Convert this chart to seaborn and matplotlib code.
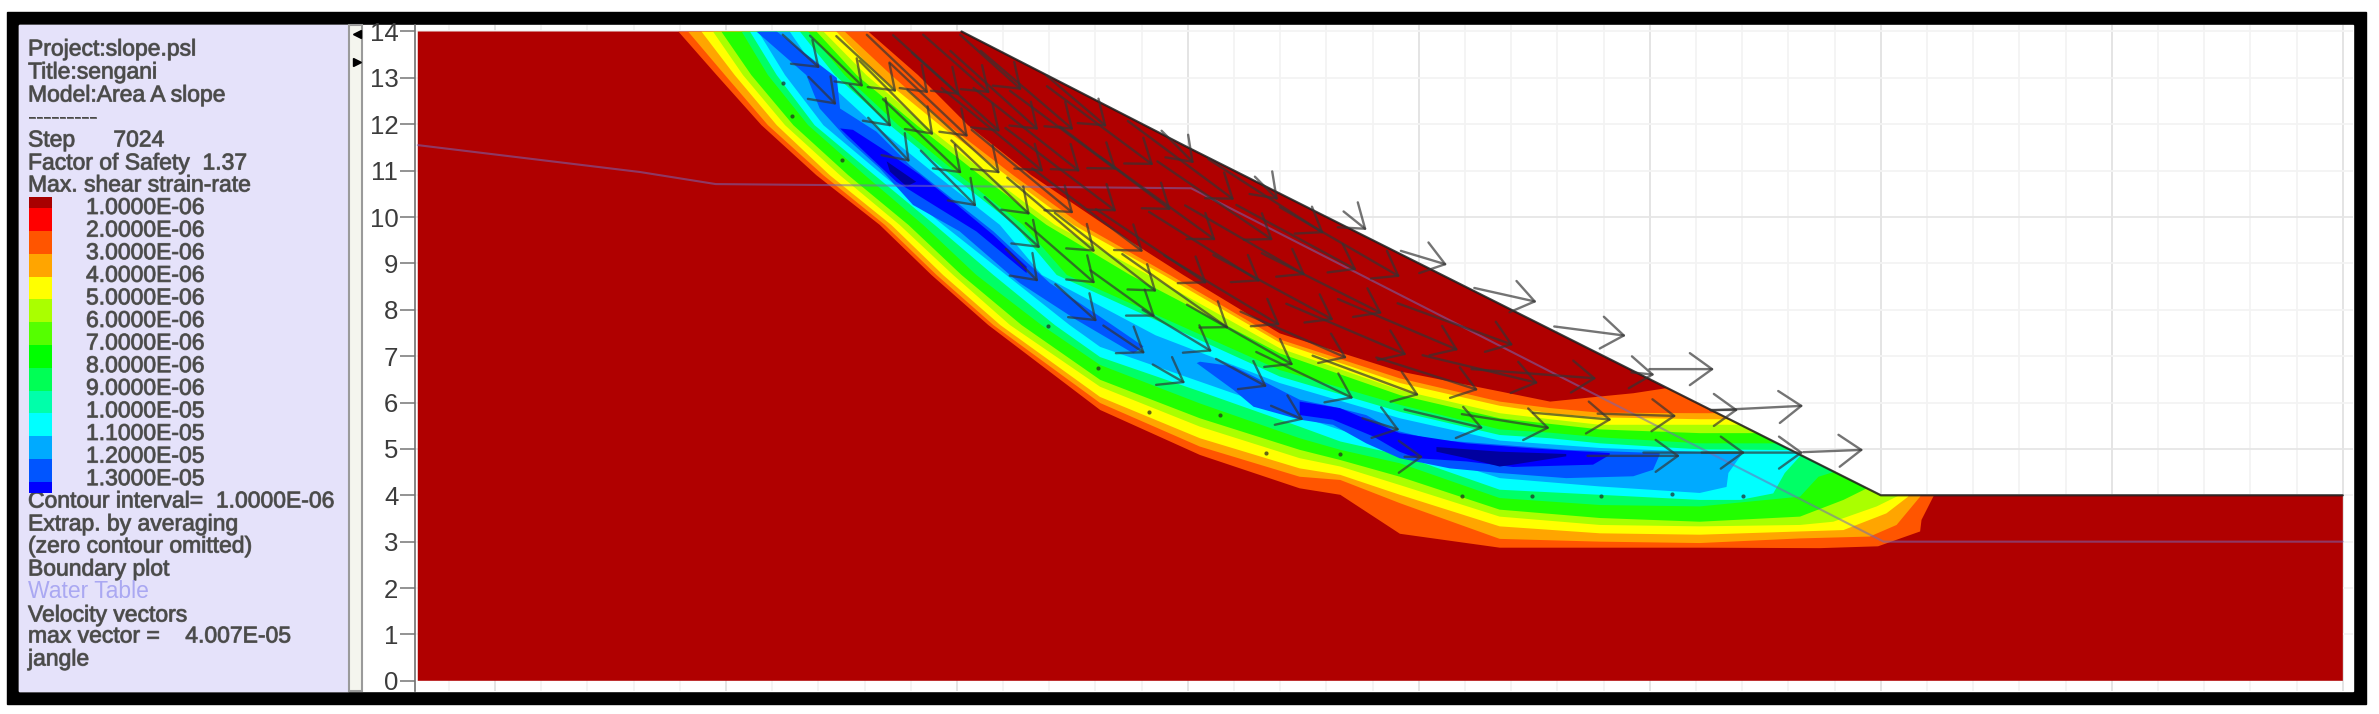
import numpy as np
import pandas as pd
import seaborn as sns
import matplotlib.pyplot as plt
import matplotlib.patheffects as pe
from matplotlib.colors import ListedColormap
from matplotlib.patches import Polygon, Rectangle

# slope outline, metres
ground_x = [3.33, 45, 45, 35, 30, 25, 20, 15.1, 3.33]
ground_y = [0, 0, 4, 4, 6.5, 9, 11.5, 14, 14]
face_x = [15.1, 20, 25, 30, 35, 45]
face_y = [14, 11.5, 9, 6.5, 4, 4]
water_x = [3.33, 8.14, 9.78, 20.07, 35.06, 45]
water_y = [11.55, 10.97, 10.71, 10.62, 3.0, 3.0]

# strain-rate legend
legend_labels = ['1.0000E-06', '2.0000E-06', '3.0000E-06', '4.0000E-06', '5.0000E-06',
                 '6.0000E-06', '7.0000E-06', '8.0000E-06', '9.0000E-06', '1.0000E-05',
                 '1.1000E-05', '1.2000E-05', '1.3000E-05']
legend_colors = ['#a80000', '#ff0000', '#ff5500', '#ffa500', '#ffff00', '#aaff00', '#55ff00',
                 '#00ff00', '#00ff55', '#00ffaa', '#00ffff', '#00aaff', '#0055ff', '#0000ff']
legend_cells = [1, 2, 2, 2, 2, 2, 2, 2, 2, 2, 2, 2, 2, 1]

ground_color = '#b00000'
band_colors = ['#ff5500', '#ffa500', '#ffff00', '#aaff00', '#22ff00', '#00ff66', '#00ffff']

# band edges below the shear zone: one row per height, one column per band
lower_heights = [14, 13.06, 11.98, 10.9, 9.83, 8.75, 7.67]
lower_by_height = [
    [8.97, 9.18, 9.47, 9.72, 9.90, 10.34, 10.52],
    [9.80, 9.98, 10.19, 10.37, 10.55, 10.91, 11.10],
    [10.77, 10.91, 11.10, 11.28, 11.46, 11.78, 11.92],
    [11.96, 12.11, 12.25, 12.47, 12.65, 13.01, 13.22],
    [13.33, 13.44, 13.58, 13.76, 13.95, 14.27, 14.52],
    [14.45, 14.56, 14.70, 14.92, 15.10, 15.42, 15.79],
    [15.68, 15.79, 15.94, 16.15, 16.40, 16.83, 17.12],
]
lower_positions = [18.10, 20.26, 22.42, 23.3, 24.59, 26.75, 28.92, 31.08]
lower_by_position = [
    [5.84, 5.99, 6.12, 6.34, 6.49, 6.81, 6.98],
    [4.87, 5.05, 5.23, 5.48, 5.66, 5.98, 6.24],
    [4.15, 4.40, 4.58, 4.80, 4.98, 5.23, 5.48],
    [4.01, 4.33, 4.44, 4.62, 4.76, 4.98, 5.16],
    [3.17, 3.83, 4.01, 4.22, 4.40, 4.69, 4.87],
    [2.87, 3.06, 3.33, 3.54, 3.69, 3.94, 4.12],
    [2.87, 3.00, 3.18, 3.36, 3.51, 3.79, 4.01],
    [2.87, 2.97, 3.15, 3.33, 3.43, 3.76, 3.90],
]
lower_toe = [
    [(33.68, 2.86), (34.94, 2.90), (35.85, 3.22), (35.88, 3.47), (36.15, 4.0), (36.2, 4.2)],
    [(33.25, 3.07), (34.76, 3.11), (35.34, 3.36), (35.85, 3.97), (35.9, 4.2)],
    [(33.25, 3.22), (34.19, 3.25), (35.12, 3.61), (35.59, 3.97), (35.65, 4.2)],
    [(33.25, 3.36), (33.97, 3.43), (34.91, 3.76), (35.38, 3.99), (35.45, 4.2)],
    [(33.25, 3.54), (34.19, 3.90), (34.8, 4.2)],
    [(33.25, 3.97), (33.65, 4.4), (34.3, 4.6)],
    [(31.95, 3.90), (32.67, 4.04), (32.92, 4.48), (33.32, 4.92), (33.5, 5.1)],
]

# band edges above the shear zone
upper_heights = [14, 13.06, 11.98, 10.9, 9.83, 8.75]
upper_by_height = [
    [13.08, 12.57, 12.39, 12.11, 11.96, 11.78, 11.60],
    [14.16, 13.58, 13.30, 13.04, 12.83, 12.57, 12.36],
    [15.24, 14.81, 14.63, 14.31, 14.13, 13.73, 13.55],
    [16.61, 16.22, 16.07, 15.68, 15.50, 15.06, 14.88],
    [18.20, 17.70, 17.52, 17.12, 16.94, 16.43, 16.25],
    [19.90, 19.61, 19.47, 19.15, 18.75, 17.38, 17.16],
]
upper_positions = [21.99, 24.59, 26.75, 27.84, 28.92]
upper_by_position = [
    [7.49, 7.36, 7.29, 7.17, 7.06, 6.70, 6.56],
    [6.67, 6.52, 6.42, 6.27, 6.16, 5.95, 5.80],
    [6.24, 6.02, 5.93, 5.77, 5.66, 5.42, 5.30],
    [6.02, 5.88, 5.77, 5.64, 5.54, 5.35, 5.23],
    [6.13, 5.78, 5.68, 5.52, 5.42, 5.25, 5.12],
]
upper_toe = [
    [(29.64, 6.2), (30.36, 6.31), (31.1, 6.6)],
    [(31.08, 5.77), (31.6, 5.77)],
    [(31.08, 5.64), (32, 5.64)],
    [(31.08, 5.52), (32.5, 5.52)],
    [(31.08, 5.34), (33, 5.34)],
    [(31.08, 5.12), (33.3, 5.12)],
    [(31.08, 4.99), (33.8, 4.97)],
]

# the closed blue patches in the middle of the band
sky_patch = [(10.70, 14), (11.28, 13.06), (12.11, 11.98), (13.40, 10.9), (14.70, 9.83), (16.07, 8.75),
             (17.44, 7.67), (18.10, 7.20), (20.26, 6.45), (22.42, 5.70), (23.3, 5.41), (24.59, 5.05),
             (26.75, 4.37), (28.92, 4.19), (31.08, 4.05), (31.66, 4.18), (31.7, 4.48), (32.0, 4.9),
             (28.92, 5.02), (26.75, 5.18), (24.59, 5.66), (21.99, 6.42), (19.3, 7.45), (16.84, 8.75),
             (15.93, 9.83), (14.56, 10.9), (13.22, 11.98), (12.03, 13.06), (11.38, 14)]
blue_upper = [(10.66, 14), (11.74, 13.06), (12.03, 12.34), (12.61, 11.70), (13.33, 11.05), (14.05, 10.26),
              (15.06, 9.69), (16.15, 8.75), (16.37, 8.57), (17.59, 7.78), (18.82, 7.06), (19.04, 7.21),
              (18.10, 7.85), (17.02, 8.57), (16.22, 9.29), (15.79, 9.69), (14.70, 10.55), (13.98, 11.12),
              (13.26, 11.84), (12.47, 12.34), (12.40, 13.0), (11.1, 14)]
blue_lower = [(20.19, 6.85), (20.99, 6.27), (21.42, 5.91), (22.43, 5.63), (23.14, 5.52), (23.86, 5.12),
              (24.58, 4.80), (25.67, 4.58), (26.75, 4.48), (28.19, 4.37), (29.64, 4.41), (30.07, 4.55),
              (30.21, 4.87), (30.21, 4.91), (28.19, 4.98), (26.75, 5.09), (25.31, 5.2), (24.44, 5.41),
              (23.86, 5.73), (23.14, 5.91), (22.42, 6.06), (21.71, 6.42), (20.99, 6.78), (20.26, 6.88)]
deep_upper = [(12.47, 11.91), (13.04, 11.37), (13.69, 10.76), (14.56, 10.22), (15.42, 9.69), (16.51, 8.79),
              (16.51, 8.93), (15.79, 9.61), (14.92, 10.33), (14.2, 10.91), (13.48, 11.41), (12.75, 11.88)]
deep_lower = [(22.42, 6.02), (23.29, 5.88), (24.08, 5.55), (24.58, 5.34), (26.03, 5.12), (27.47, 5.01),
              (29.13, 4.91), (29.13, 4.87), (28.77, 4.66), (27.04, 4.61), (26.03, 4.73), (24.95, 4.8),
              (24.58, 4.94), (24.01, 5.27), (23.14, 5.63), (22.42, 5.73)]
core_upper = [(13.48, 11.2), (14.12, 10.76), (13.91, 10.66), (13.55, 10.98)]
core_lower = [(25.38, 5.04), (26.75, 4.94), (28.19, 4.89), (28.19, 4.84), (27.04, 4.66), (26.75, 4.62),
              (26.03, 4.8), (25.38, 4.94)]
blue_patches = [(sky_patch, '#00aaff'), (blue_upper, '#0055ff'), (blue_lower, '#0055ff'),
                (deep_upper, '#0000ff'), (deep_lower, '#0000ff'), (core_upper, '#00009f'), (core_lower, '#00009f')]

# velocity vectors: arrow tip and vector
arrow_x = [12.03, 12.97, 13.69, 14.38, 15.06, 15.71, 16.40,
           12.39, 13.58, 14.49, 15.24, 15.93, 16.76, 17.52, 18.24,
           13.98, 15.10, 15.93, 16.87, 17.66, 18.45, 19.25,
           15.42, 16.58, 17.52, 18.45, 19.63, 20.13,
           16.80, 17.99, 19.03, 20.60, 21.00, 21.95,
           16.76, 17.99, 19.32, 20.41, 21.56, 21.84, 22.94, 23.87,
           18.03, 19.29, 20.88, 21.99, 22.54, 23.65, 24.59, 25.61,
           19.07, 20.52, 22.28, 23.15, 24.20, 25.85, 27.55,
           19.94, 21.71, 23.44, 24.73, 27.04, 29.48,
           22.50, 23.58, 25.00, 26.28, 27.58, 28.84, 30.10, 31.39,
           24.58, 26.39, 27.83, 29.17, 30.57, 31.91, 33.32,
           25.09, 30.65, 32.06, 33.32, 34.62]
arrow_y = [13.21, 12.81, 12.70, 12.67, 12.63, 12.67, 12.74,
           12.42, 11.95, 11.77, 11.73, 11.84, 11.88, 11.88, 11.95,
           11.19, 10.94, 10.94, 10.98, 10.98, 11.02, 11.12,
           10.23, 10.05, 10.08, 10.12, 10.15, 11.16,
           9.33, 9.25, 9.25, 9.50, 10.37, 10.37,
           8.61, 8.57, 8.39, 8.57, 8.61, 9.50, 9.65, 9.72,
           7.75, 7.85, 7.60, 7.67, 8.75, 8.86, 8.71, 8.97,
           7.06, 7.10, 6.81, 7.78, 7.92, 7.13, 8.17,
           6.42, 6.34, 6.96, 7.03, 7.24, 7.44,
           5.63, 6.09, 6.16, 6.27, 6.42, 6.52, 6.60, 6.72,
           5.41, 5.45, 5.45, 5.63, 5.71, 5.84, 5.93,
           4.83, 4.85, 4.92, 4.92, 4.98]
arrow_u = [.8, 1.15, 1.3, 1.33, 1.44, 1.44, 1.33,
           .6, .9, 1.6, 1.7, 1.9, 1.9, 2, 1.3,
           .9, 1.7, 2, 2.2, 2.3, 2.3, 2.3,
           1.2, 1.7, 2.2, 2.4, 2.4, .7,
           1.2, 1.9, 2.4, 2.5, 2.3, .5,
           .7, 1.5, 2.2, 2.4, 2.4, 2.5, 2.5, .5,
           .9, 1.4, 2.3, 2.5, 2.6, 2.6, 2.6, 1.0,
           .9, 1.5, 2.3, 2.6, 2.6, 2.6, 1.35,
           .7, 1.1, 2.3, 2.6, 2.5, 1.55,
           .7, 2.1, 2.3, 2.2, 2.5, 2.7, .5, 1.4,
           .8, 1.7, 1.9, 1.7, 1.7, .6, 2.0,
           .4, 2.0, 2.2, 2.2, 1.3]
arrow_v = [-.72, -1.1, -1.2, -1.26, -1.29, -1.26, -1.19,
           -.6, -.9, -1.6, -1.6, -1.7, -1.7, -1.7, -1.1,
           -.95, -1.6, -1.8, -1.8, -1.8, -1.7, -1.7,
           -1.2, -1.6, -1.8, -1.8, -1.8, -.7,
           -1.1, -1.6, -1.8, -1.8, -1.7, -.5,
           -.7, -1.3, -1.7, -1.6, -1.5, -1.7, -1.6, -.4,
           -.8, -1.0, -1.6, -1.5, -1.5, -1.4, -1.5, -.3,
           -.6, -.9, -1.3, -1.4, -1.3, -1.1, -.3,
           -.4, -.6, -1.0, -1.1, -.9, -.2,
           -.3, -1.0, -.85, -.7, -.6, -.2, -.05, 0,
           -.25, -.4, -.3, -.15, -.05, 0, .1,
           0, 0, 0, 0, .05]

# small vectors that show up only as dots
dot_x = [20.7, 23.3, 21.7, 19.15, 18.06, 16.98, 25.93, 27.45, 28.95, 30.47, 32.02, 11.24, 11.42, 12.52]
dot_y = [5.73, 4.89, 4.91, 5.79, 6.74, 7.64, 3.99, 3.99, 3.99, 4.02, 3.99, 12.88, 12.17, 11.23]

panel_top = [('Project:slope.psl', 49), ('Title:sengani', 72), ('Model:Area A slope', 95),
             ('---------', 117), ('Step      7024', 140), ('Factor of Safety  1.37', 163),
             ('Max. shear strain-rate', 185)]
panel_bottom = [('Contour interval=  1.0000E-06', 501), ('Extrap. by averaging', 524),
                ('(zero contour omitted)', 546), ('Boundary plot', 569), ('Water Table', 591),
                ('Velocity vectors', 615), ('max vector =    4.007E-05', 636), ('jangle', 659)]

sns.set_theme(style='white')
plt.rcParams['font.family'] = ['Liberation Sans', 'DejaVu Sans']

W, H = 2379, 714
fig = plt.figure(figsize=(W / 100, H / 100), dpi=100, facecolor='white')


def box(left, top, right, bottom):
    return [left / W, 1 - bottom / H, (right - left) / W, (bottom - top) / H]


# frame and side panel, drawn in picture pixels
back = fig.add_axes([0, 0, 1, 1], zorder=0)
back.set_xlim(0, W)
back.set_ylim(H, 0)
back.axis('off')
back.add_patch(Rectangle((7, 12), 2359, 692, color='black'))
back.add_patch(Rectangle((19, 25), 2334, 666, color='white'))
back.add_patch(Rectangle((19, 25), 329, 666, color='#e5e2fa'))
back.add_patch(Rectangle((349, 25), 13, 666, facecolor='#f4f5ee', edgecolor='#9a9a9a', lw=1.5))
back.plot([357], [34], marker='<', color='black', ms=6)
back.plot([357], [62], marker='>', color='black', ms=6)

text_color = '#4a4a4a'
bolder = [pe.withStroke(linewidth=0.7, foreground='#6a6a6a')]
for label, y in panel_top + panel_bottom:
    if label == 'Water Table':
        back.text(28, y, label, fontsize=16.5, color='#aaa8f2', va='center', ha='left')
    else:
        back.text(28, y, label, fontsize=16.5, color=text_color, va='center', ha='left', path_effects=bolder)
for i, label in enumerate(legend_labels):
    back.text(86, 207.5 + 22.6 * i, label, fontsize=16.5, color=text_color, va='center', ha='left',
              path_effects=bolder)

# colour key
key = fig.add_axes(box(29, 197, 52, 493), zorder=1)
cells = np.repeat(np.arange(len(legend_colors)), legend_cells).reshape(-1, 1)
sns.heatmap(cells, ax=key, cmap=ListedColormap(legend_colors), cbar=False, xticklabels=False, yticklabels=False)

# main plot
ax = fig.add_axes(box(415, 25, 2353, 691), zorder=2)
ax.set_xlim(3.27, 45.22)
ax.set_ylim(-0.22, 14.14)
ax.set_xticks([])
ax.set_yticks(np.arange(0, 15), labels=[str(v) for v in range(15)])
for v in np.arange(4, 46):
    ax.axvline(v, color='#e2e2e2' if v % 5 == 0 else '#f3f3f3', lw=1.3, zorder=0)
for v in np.arange(1, 15):
    ax.axhline(v, color='#e6e6e6' if v % 5 == 0 else '#f3f3f3', lw=1.3, zorder=0)
ax.tick_params(axis='y', left=True, length=11, width=1.2, color='#808080',
               labelsize=18.5, labelcolor='#3c3c3c', pad=1)
for side in ['top', 'right', 'bottom']:
    ax.spines[side].set_visible(False)
ax.spines['left'].set_color('#707070')
ax.spines['left'].set_linewidth(1.2)

ground = Polygon(np.column_stack([ground_x, ground_y]), closed=True, facecolor=ground_color, edgecolor='none', zorder=1)
ax.add_patch(ground)

lower_by_height = np.array(lower_by_height)
lower_by_position = np.array(lower_by_position)
upper_by_height = np.array(upper_by_height)
upper_by_position = np.array(upper_by_position)

for band, color in enumerate(band_colors):
    lower = list(zip(lower_by_height[:, band], lower_heights))
    lower += list(zip(lower_positions, lower_by_position[:, band]))
    lower += lower_toe[band]
    upper = list(zip(upper_by_height[:, band], upper_heights))
    upper += list(zip(upper_positions, upper_by_position[:, band]))
    upper += upper_toe[band]
    shape = Polygon(lower + upper[::-1], closed=True, facecolor=color, edgecolor='none', zorder=2 + band * 0.1)
    ax.add_patch(shape)
    shape.set_clip_path(ground)

for i, (points, color) in enumerate(blue_patches):
    shape = Polygon(points, closed=True, facecolor=color, edgecolor='none', zorder=3 + i * 0.1)
    ax.add_patch(shape)
    shape.set_clip_path(ground)

# water table and slope boundary
sns.lineplot(x=water_x, y=water_y, ax=ax, color='#7468b8', lw=1.5, alpha=0.55, sort=False, zorder=5)
sns.lineplot(x=face_x, y=face_y, ax=ax, color='#1c1c1c', lw=1.6, alpha=0.85, sort=False, zorder=5)
sns.scatterplot(x=dot_x, y=dot_y, ax=ax, color='#222222', s=9, alpha=0.7, linewidth=0, zorder=6)

vectors = pd.DataFrame({'x': arrow_x, 'y': arrow_y, 'u': arrow_u, 'v': arrow_v})
for row in vectors.itertuples():
    ax.annotate('', xy=(row.x, row.y), xytext=(row.x - row.u, row.y - row.v), zorder=7,
                arrowprops=dict(arrowstyle='->,head_length=1.0,head_width=0.72', lw=1.7, color='#333333',
                                alpha=0.68, shrinkA=0, shrinkB=0, mutation_scale=16))

fig.savefig('out.png', dpi=100)
